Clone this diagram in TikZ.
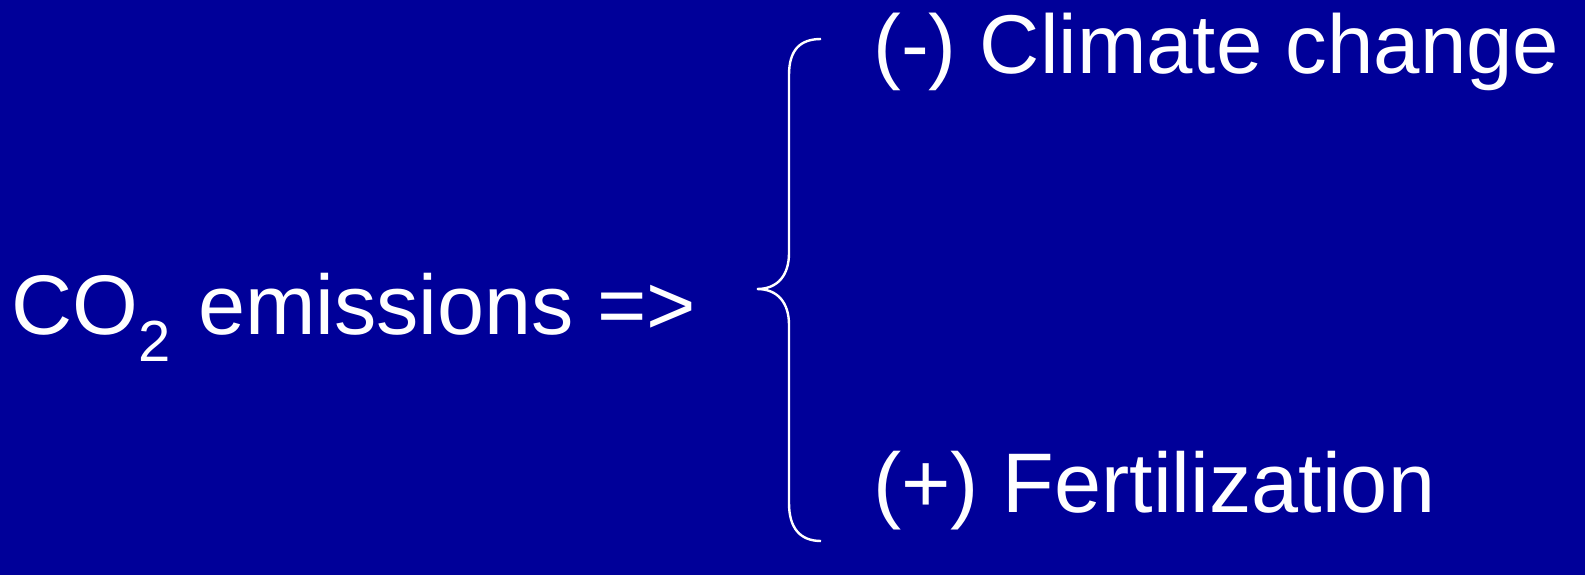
\documentclass[tikz,border=0pt]{standalone}
\usepackage{fontspec}
\setmainfont{Liberation Sans}
\usepackage{xcolor}
\usepackage{tikz}
\definecolor{slideblue}{HTML}{000099}

\begin{document}
\begin{tikzpicture}[x=0.5pt,y=0.5pt,
    slidetext/.style={text=white,inner sep=0pt,anchor=base west,font=\fontsize{42.3}{50}\selectfont}]
    \fill[slideblue] (0,0) rectangle (1585,575);
    \node[slidetext] (emis) at (11,241) {CO\raisebox{-13.5pt}{\fontsize{29}{30}\selectfont 2}\hspace{2pt} emissions =>};
    \node[slidetext,font=\fontsize{41.7}{50}\selectfont] (clim) at (873,502) {(-) Climate change};
    \node[slidetext] (fert) at (873,63) {(+) Fertilization};
    \coordinate (bracetop) at (821,536);
    \coordinate (bracetip) at (757,286);
    \coordinate (bracebot) at (821,34);
    \draw[white,line width=1.2pt] (bracetop) .. controls (800,536) and (789,525) .. (789,500) -- (789,322)
        .. controls (789,300) and (778,286) .. (bracetip) .. controls (778,286) and (789,272) .. (789,250)
        -- (789,72) .. controls (789,47) and (800,34) .. (bracebot);
  \end{tikzpicture}
\end{document}
